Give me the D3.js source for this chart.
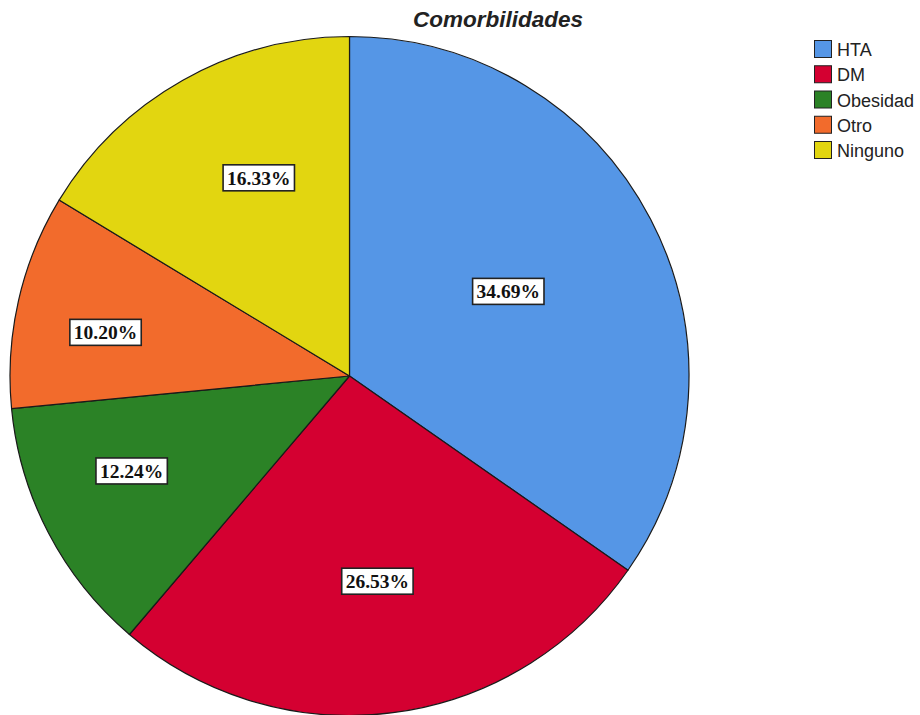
<!DOCTYPE html>
<html lang="es">
<head>
<meta charset="utf-8">
<title>Comorbilidades</title>
<style>
  body { margin: 0; background: #fff; }
  svg { display: block; }
</style>
</head>
<body>
<div id="chart"></div>
<script src="https://cdn.jsdelivr.net/npm/d3@7"></script>
<script>
// datos
const categories = ["HTA", "DM", "Obesidad", "Otro", "Ninguno"];
const percents = [34.69, 26.53, 12.24, 10.20, 16.33];
const colors = ["#5596e6", "#d40031", "#2b8226", "#f26b2c", "#e2d610"];

// where SPSS put each box: share of the radius, and a small turn (deg) off the mid angle
const labelRadius = [0.53, 0.61, 0.70, 0.73, 0.642];
const labelTurn = [-0.5, -0.4, 4, -2.7, 4.8];

const width = 920, height = 715;
const cx = 349.5, cy = 376, r = 339.5;

const svg = d3.select("#chart").append("svg")
    .attr("width", width)
    .attr("height", height);

svg.append("text")
    .attr("x", 498)
    .attr("y", 27)
    .attr("text-anchor", "middle")
    .attr("font-family", "Liberation Sans, Arial, sans-serif")
    .attr("font-size", 22.5)
    .attr("font-weight", "bold")
    .attr("font-style", "italic")
    .attr("fill", "#222")
    .text("Comorbilidades");

const data = categories.map((c, i) => ({
  name: c, value: percents[i], color: colors[i], k: labelRadius[i], turn: labelTurn[i]
}));

const pie = d3.pie().sort(null).value(d => d.value);
const arcs = pie(data);
const arc = d3.arc().innerRadius(0).outerRadius(r);

const g = svg.append("g").attr("transform", `translate(${cx},${cy})`);

g.selectAll("path")
  .data(arcs)
  .join("path")
    .attr("d", arc)
    .attr("fill", d => d.data.color)
    .attr("stroke", "#1a1a1a")
    .attr("stroke-width", 1.2)
    .attr("stroke-linejoin", "round");

const fmt = d3.format(".2f");

const labels = g.selectAll("g.lab")
  .data(arcs)
  .join("g")
    .attr("class", "lab")
    .attr("transform", d => {
      const a = (d.startAngle + d.endAngle) / 2 + d.data.turn * Math.PI / 180;
      const rr = r * d.data.k;
      return `translate(${Math.sin(a) * rr},${-Math.cos(a) * rr})`;
    });

labels.append("text")
    .attr("text-anchor", "middle")
    .attr("dy", "0.36em")
    .attr("font-family", "Liberation Serif, Times New Roman, serif")
    .attr("font-weight", "bold")
    .attr("font-size", 19.5)
    .attr("fill", "#111")
    .text(d => fmt(d.data.value) + "%");

labels.each(function() {
  const gl = d3.select(this);
  const b = gl.select("text").node().getBBox();
  gl.insert("rect", "text")
    .attr("x", b.x - 4)
    .attr("y", -13)
    .attr("width", b.width + 8)
    .attr("height", 26)
    .attr("fill", "#fff")
    .attr("stroke", "#222")
    .attr("stroke-width", 1.6);
});

// leyenda
const legend = svg.append("g").attr("transform", "translate(814,40)");
const item = legend.selectAll("g")
  .data(data)
  .join("g")
    .attr("transform", (d, i) => `translate(0,${i * 25.25})`);

item.append("rect")
    .attr("x", 0.5)
    .attr("y", 0.5)
    .attr("width", 17)
    .attr("height", 17)
    .attr("fill", d => d.color)
    .attr("stroke", "#222")
    .attr("stroke-width", 1);

item.append("text")
    .attr("x", 23)
    .attr("y", 16)
    .attr("font-family", "Liberation Sans, Arial, sans-serif")
    .attr("font-size", 18)
    .attr("fill", "#222")
    .text(d => d.name);
</script>
</body>
</html>
